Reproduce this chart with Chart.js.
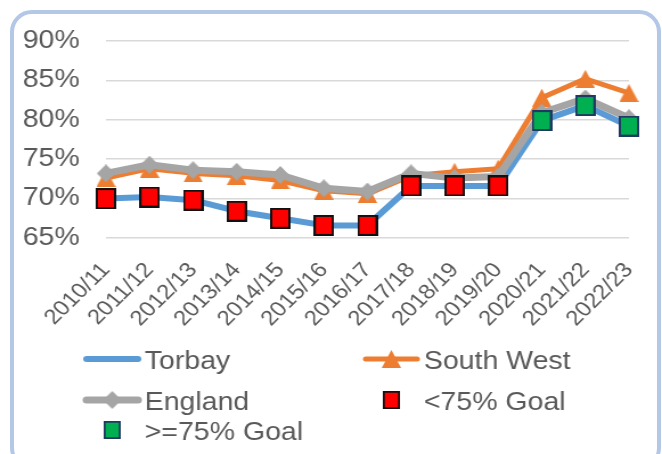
<!DOCTYPE html>
<html>
<head>
<meta charset="utf-8">
<script src="https://cdn.jsdelivr.net/npm/chart.js@4/dist/chart.umd.min.js"></script>
<style>
  html, body { margin: 0; padding: 0; background: #fff; overflow: hidden; }
  /* light blue rounded frame round the whole chart */
  #frame {
    position: absolute; left: 10px; top: 10px; width: 651px; height: 460px;
    box-sizing: border-box; border: 4px solid #b4c7e7; border-radius: 22px;
  }
  #chart { position: absolute; left: 0; top: 0; }
</style>
</head>
<body>
<div id="frame"></div>
<!-- the source picture is stretched sideways, so the canvas is drawn narrow and widened to 662px -->
<canvas id="chart" width="581" height="454" style="width: 662px; height: 454px;"></canvas>
<script>
// ── Data ──
const years = ['2010/11', '2011/12', '2012/13', '2013/14', '2014/15', '2015/16', '2016/17',
               '2017/18', '2018/19', '2019/20', '2020/21', '2021/22', '2022/23'];
const torbay    = [70.0, 70.2, 69.8, 68.4, 67.5, 66.6, 66.6, 71.6, 71.6, 71.6, 79.9, 81.8, 79.2];
const southWest = [72.6, 73.8, 73.2, 72.9, 72.3, 71.0, 70.6, 72.9, 73.4, 73.8, 82.8, 85.2, 83.4];
const england   = [73.2, 74.3, 73.6, 73.4, 73.0, 71.3, 70.9, 73.2, 72.6, 72.8, 80.9, 82.7, 80.2];
const goal = 75;
const yTicks = [65, 70, 75, 80, 85, 90];

// goal markers sit on the Torbay values
const belowGoal = torbay.map(v => (v < goal ? v : null));
const aboveGoal = torbay.map(v => (v >= goal ? v : null));

// ── Colors ──
const colors = {
  blue: '#5b9bd5',
  orange: '#ed7d31',
  gray: '#a5a5a5',
  red: '#ff0000',
  green: '#00b050',
  navy: '#1f3864',
  text: '#595959',
  grid: '#d9d9d9',
};
const font = '"Liberation Sans", Arial, sans-serif';

// ── Marker images (drawn narrow, stretched with the canvas) ──
function markerCanvas(w, h, paint) {
  const c = document.createElement('canvas');
  c.width = w;
  c.height = h;
  paint(c.getContext('2d'), w, h);
  return c;
}

function squareMarker(fill, stroke) {
  return markerCanvas(18, 21, (g, w, h) => {
    g.fillStyle = fill;
    g.fillRect(1, 1, w - 2, h - 2);
    g.lineWidth = 2;
    g.strokeStyle = stroke;
    g.strokeRect(1, 1, w - 2, h - 2);
  });
}

const triangle = markerCanvas(17, 18, (g, w, h) => {
  g.fillStyle = colors.orange;
  g.beginPath();
  g.moveTo(w / 2, 0);
  g.lineTo(w, h);
  g.lineTo(0, h);
  g.closePath();
  g.fill();
});

const diamond = markerCanvas(16, 18, (g, w, h) => {
  g.fillStyle = colors.gray;
  g.beginPath();
  g.moveTo(w / 2, 0);
  g.lineTo(w, h / 2);
  g.lineTo(w / 2, h);
  g.lineTo(0, h / 2);
  g.closePath();
  g.fill();
});

const redSquare = squareMarker(colors.red, '#111111');
const greenSquare = squareMarker(colors.green, colors.navy);

// ── Legend drawn in two columns like the source ──
const legendSpots = [
  { index: 0, x: 74,  y: 359 },  // Torbay
  { index: 1, x: 319, y: 359 },  // South West
  { index: 2, x: 74,  y: 400 },  // England
  { index: 3, x: 319, y: 400 },  // <75% Goal
  { index: 4, x: 74,  y: 430 },  // >=75% Goal
];

const columnLegend = {
  id: 'columnLegend',
  afterDraw(chart) {
    const ctx = chart.ctx;
    ctx.save();
    legendSpots.forEach(spot => {
      const ds = chart.data.datasets[spot.index];
      const mid = spot.x + 24.5;
      if (ds.showLine !== false) {
        ctx.lineWidth = ds.borderWidth;
        ctx.strokeStyle = ds.borderColor;
        ctx.lineCap = 'round';
        ctx.beginPath();
        ctx.moveTo(spot.x + 2, spot.y);
        ctx.lineTo(spot.x + 47, spot.y);
        ctx.stroke();
        if (ds.legendMarker) {
          const m = ds.legendMarker;
          ctx.drawImage(m, mid - m.width / 2, spot.y - m.height / 2);
        }
      } else {
        ctx.drawImage(ds.pointStyle, mid - 7.5, spot.y - 9, 15, 18);
      }
      ctx.fillStyle = colors.text;
      ctx.font = '25px ' + font;
      ctx.textBaseline = 'alphabetic';
      ctx.textAlign = 'left';
      ctx.fillText(ds.label, spot.x + 53, spot.y + 9.5);
    });
    ctx.restore();
  }
};

new Chart(document.getElementById('chart'), {
  type: 'line',
  data: {
    labels: years,
    datasets: [
      {
        label: 'Torbay',
        data: torbay,
        borderColor: colors.blue,
        borderWidth: 6,
        pointRadius: 0,
        order: 3,
      },
      {
        label: 'South West',
        data: southWest,
        borderColor: colors.orange,
        borderWidth: 5,
        pointStyle: triangle,
        pointRadius: 9,
        legendMarker: triangle,
        order: 2,
      },
      {
        label: 'England',
        data: england,
        borderColor: colors.gray,
        borderWidth: 7,
        pointStyle: diamond,
        pointRadius: 9,
        legendMarker: diamond,
        order: 1,
      },
      {
        label: '<75% Goal',
        data: belowGoal,
        showLine: false,
        pointStyle: redSquare,
        pointRadius: 10,
        order: 0,
      },
      {
        label: '>=75% Goal',
        data: aboveGoal,
        showLine: false,
        pointStyle: greenSquare,
        pointRadius: 10,
        order: 0,
      },
    ]
  },
  options: {
    responsive: false,
    animation: false,
    devicePixelRatio: 1,
    clip: false,
    layout: {
      padding: { top: 41, left: 20, right: 29, bottom: 118 }
    },
    elements: {
      line: { tension: 0, borderJoinStyle: 'round', borderCapStyle: 'round' }
    },
    scales: {
      x: {
        offset: false,
        grid: { display: false, drawTicks: false },
        border: { display: false },
        ticks: {
          color: colors.text,
          font: { family: font, size: 21 },
          minRotation: 48,
          maxRotation: 48,
          padding: 20,
          autoSkip: false,
        },
        afterFit(scale) {
          scale.height = 98;
          // keep the plot edges where the layout padding puts them
          scale.paddingLeft = 0;
          scale.paddingRight = 0;
        },
      },
      y: {
        min: yTicks[0],
        max: yTicks[yTicks.length - 1],
        grid: { color: colors.grid, lineWidth: 1.5, drawTicks: false },
        border: { display: false },
        ticks: {
          stepSize: yTicks[1] - yTicks[0],
          color: colors.text,
          font: { family: font, size: 25 },
          padding: 23,
          callback: v => v + '%',
        },
        afterFit(scale) { scale.width = 73; },
      }
    },
    plugins: {
      legend: { display: false },
      tooltip: { enabled: false },
    }
  },
  plugins: [columnLegend]
});
</script>
</body>
</html>
